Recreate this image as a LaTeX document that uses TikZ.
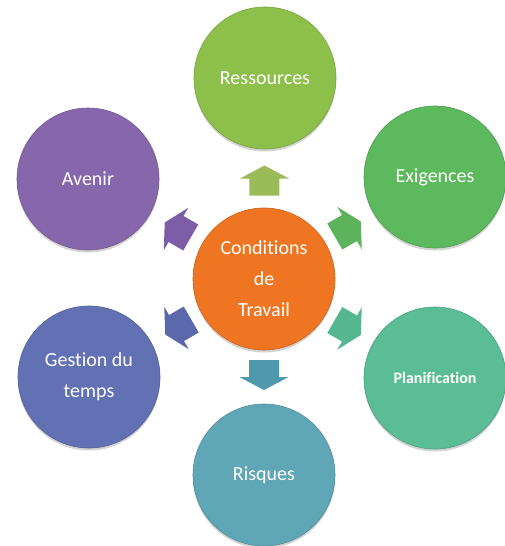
\documentclass[tikz,border=0pt]{standalone}
\usepackage{fontspec}
\setmainfont{Carlito}[Ligatures=NoCommon]
\usetikzlibrary{calc,shadows}
\definecolor{cRes}{HTML}{8DC04A}
\definecolor{cExi}{HTML}{5DB95E}
\definecolor{cPla}{HTML}{5BBD95}
\definecolor{cRis}{HTML}{5FA7B7}
\definecolor{cGes}{HTML}{6171B3}
\definecolor{cAve}{HTML}{8767AC}
\definecolor{cCen}{HTML}{F07522}
\definecolor{aRes}{HTML}{9BBB59}
\definecolor{aExi}{HTML}{5CB35C}
\definecolor{aPla}{HTML}{55B690}
\definecolor{aRis}{HTML}{4F99AC}
\definecolor{aGes}{HTML}{5B69AC}
\definecolor{aAve}{HTML}{7C5EA6}
\tikzset{
  circ/.style={circle, minimum size=142pt, inner sep=0pt, fill=#1, draw=#1!85!black, line width=0.6pt,
    text=white, align=center, font=\fontsize{20}{31}\selectfont,
    drop shadow={opacity=0.35, shadow xshift=0pt, shadow yshift=-2.5pt}}
}
\newcommand{\blockarr}[3]{%
  \begin{scope}[shift={(#1)}, rotate=#2]
    \fill[#3] (-15,-15) -- (2,-15) -- (2,-24.5) -- (15,0) -- (2,24.5) -- (2,15) -- (-15,15) -- cycle;
  \end{scope}}
\begin{document}
\begin{tikzpicture}[x=1pt,y=1pt]
\useasboundingbox (0,0) rectangle (504,-546);
\node[circ=cCen] (cen) at (264,-279) {Conditions\\de\\Travail};
\node[circ=cRes] (res) at (265,-78) {Ressources};
\node[circ=cExi] (exi) at (435,-177) {Exigences};
\node[circ=cPla, font=\bfseries\fontsize{16}{20}\selectfont] (pla) at (435,-378) {Planification};
\node[circ=cRis] (ris) at (264,-475) {Risques};
\node[circ=cGes] (ges) at (89,-377) {Gestion du\\temps};
\node[circ=cAve] (ave) at (88,-179) {Avenir};
\coordinate (mres) at ($(cen)!0.49!(res)$);
\coordinate (mexi) at ($(cen)!0.49!(exi)$);
\coordinate (mpla) at ($(cen)!0.49!(pla)$);
\coordinate (mris) at ($(cen)!0.49!(ris)$);
\coordinate (mges) at ($(cen)!0.49!(ges)$);
\coordinate (mave) at ($(cen)!0.49!(ave)$);
\blockarr{mres}{90}{aRes}
\blockarr{mexi}{30}{aExi}
\blockarr{mpla}{-30}{aPla}
\blockarr{mris}{-90}{aRis}
\blockarr{mges}{-150}{aGes}
\blockarr{mave}{150}{aAve}
\end{tikzpicture}
\end{document}
